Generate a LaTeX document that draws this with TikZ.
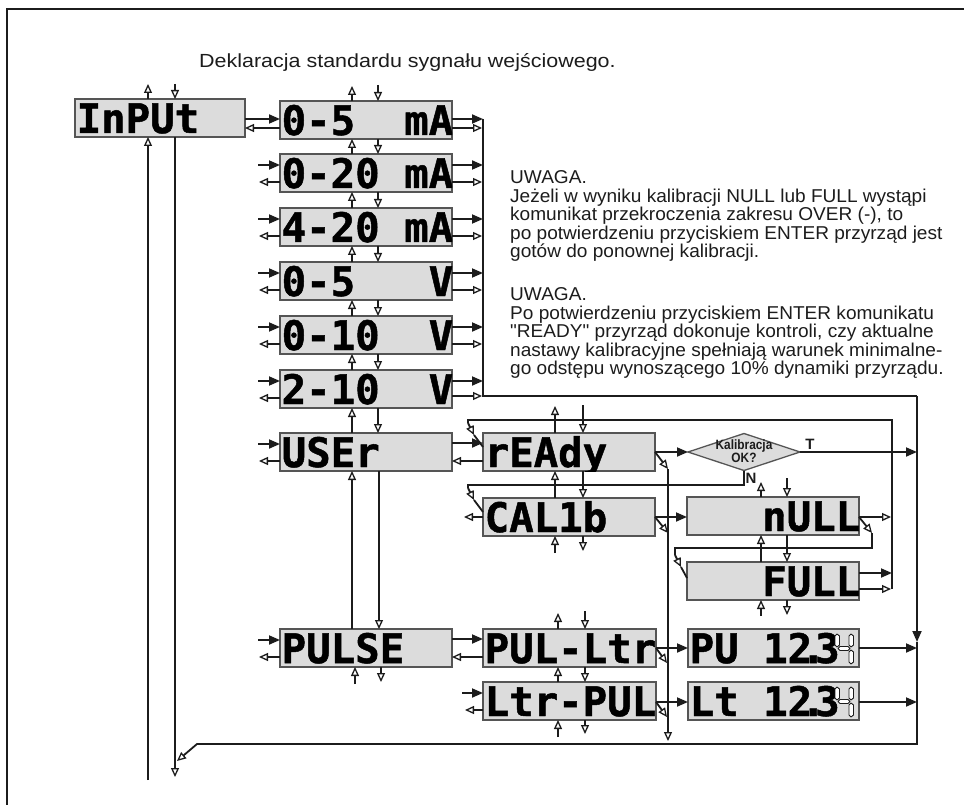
\documentclass[tikz,border=0pt]{standalone}
\usepackage{fontspec}
\setmainfont{Liberation Sans}
\newfontfamily\notefont[FakeStretch=1.025]{Liberation Sans}
\newfontfamily\titlefont[FakeStretch=1.13]{Liberation Sans}
\newfontfamily\diafont[FakeStretch=0.88]{Liberation Sans}
\newfontfamily\lcdfont{DejaVu Sans Mono}[BoldFeatures={FakeBold=1.2}]
\usetikzlibrary{arrows.meta,calc,shapes.geometric}
\definecolor{lcdgray}{RGB}{220,220,220}
\definecolor{lcdedge}{RGB}{85,85,85}
\definecolor{ink}{RGB}{28,28,28}
\newcommand\lcd[5]{%
  \node[lcdbox,minimum width=#4pt] (#1) at (#2,#3) {};
  \begin{scope}
    \clip (#1.south west) rectangle (#1.north east);
    \node[lcdtxt] (#1-t) at ($(#1.north west)+(1.5,34)$) {#5};
  \end{scope}}
% unlit segment pattern in the last cell of a display
\newcommand\ghost[1]{%
  \begin{scope}[shift={(#1.north west)}]
    \draw[seg] (149,5) -- (151.5,7) -- (151.5,16) -- (149,18) -- (147,16) -- (147,7) -- cycle;
    \draw[seg] (163,5) -- (165.5,7) -- (165.5,16) -- (163,18) -- (161,16) -- (161,7) -- cycle;
    \draw[seg] (150,19.5) -- (152,17.5) -- (160,17.5) -- (162,19.5) -- (160,21.5) -- (152,21.5) -- cycle;
    \draw[seg] (163,21) -- (165.5,23) -- (165.5,33) -- (163,35) -- (161,33) -- (161,23) -- cycle;
  \end{scope}}
\newcommand\dpt{\kern-11.25pt.\kern-10.25pt}
\begin{document}
\begin{tikzpicture}[x=1pt,y=-1pt,
  conn/.style={line width=1.8pt,draw=ink},
  fa/.style={conn,-{Triangle[length=11pt,width=9pt]}},
  oa/.style={conn,-{Triangle[open,length=9pt,width=8pt,line width=1.3pt]}},
  seg/.style={fill=white,draw=ink,line width=0.9pt,line join=round},
  lcdbox/.style={draw=lcdedge,line width=1.3pt,fill=lcdgray,anchor=north west,inner sep=0pt,outer sep=0pt,minimum height=38pt},
  lcdtxt/.style={font=\lcdfont\bfseries\fontsize{40.7}{40}\selectfont,anchor=base west,inner sep=0pt,text=black},
  note/.style={font=\notefont\fontsize{18.6}{18.6}\selectfont,anchor=base west,inner sep=0pt,text=ink},
  ttl/.style={font=\titlefont\fontsize{19}{19}\selectfont,anchor=base west,inner sep=0pt,text=ink},
  lbl/.style={font=\bfseries\fontsize{15}{15}\selectfont,inner sep=0pt,text=ink},
]
\useasboundingbox (0,0) rectangle (964,805);
% frame
\draw[line width=2.2pt,draw=ink] (964,9) -- (7,9) -- (7,805);
% title
\node[ttl] (title) at (199,68) {Deklaracja standardu sygnału wejściowego.};
% notes
\node[note] (n1) at (510,184) {UWAGA.};
\node[note] (n2) at (510,202.5) {Jeżeli w wyniku kalibracji NULL lub FULL wystąpi};
\node[note] (n3) at (510,221) {komunikat przekroczenia zakresu OVER (-), to};
\node[note] (n4) at (510,239.5) {po potwierdzeniu przyciskiem ENTER przyrząd jest};
\node[note] (n5) at (510,258) {gotów do ponownej kalibracji.};
\node[note] (m1) at (510,300.5) {UWAGA.};
\node[note] (m2) at (510,319) {Po potwierdzeniu przyciskiem ENTER komunikatu};
\node[note] (m3) at (510,337.5) {"READY" przyrząd dokonuje kontroli, czy aktualne};
\node[note] (m4) at (510,356) {nastawy kalibracyjne spełniają warunek minimalne-};
\node[note] (m5) at (510,374.5) {go odstępu wynoszącego 10\% dynamiki przyrządu.};
% displays
\lcd{inp}{75}{99}{170}{InPUt}
\lcd{a05}{280}{101}{172}{0-5~~mA}
\lcd{a020}{280}{154}{172}{0-20~mA}
\lcd{a420}{280}{208}{172}{4-20~mA}
\lcd{v05}{280}{262}{172}{0-5~~~V}
\lcd{v010}{280}{316}{172}{0-10~~V}
\lcd{v210}{280}{370}{172}{2-10~~V}
\lcd{user}{280}{433}{172}{USEr}
\lcd{pulse}{280}{629}{172}{PULSE}
\lcd{ready}{483}{433}{172}{rEAdy}
\lcd{calib}{483}{498}{172}{CAL1b}
\lcd{null}{687}{497}{172}{~~~nULL}
\lcd{full}{687}{562}{172}{~~~FULL}
\lcd{pultr}{483}{629}{173}{PUL-Ltr}
\lcd{ltrpul}{483}{682}{173}{Ltr-PUL}
\lcd{pu}{688}{629}{171}{PU~12\dpt 3}
\lcd{lt}{688}{682}{171}{Lt~12\dpt 3}
\ghost{pu}
\ghost{lt}
% decision
\node[diamond,draw=lcdedge,line width=1.3pt,fill=lcdgray,inner sep=0pt,outer sep=0pt,
  minimum width=112pt,minimum height=37pt,shape aspect=3] (dia) at (744,452) {};
\node[font=\diafont\bfseries\fontsize{13.5}{12.5}\selectfont,align=center,inner sep=0pt,text=ink] (diat) at (744,451) {Kalibracja\\OK?};
\node[lbl] (tl) at (810,444) {T};
\node[lbl] (nl) at (751,478) {N};
% coordinates
\coordinate (busTop) at (917,396);
\coordinate (busMid) at (917,642);
\coordinate (busBot) at (917,744);
\coordinate (retL) at (197,744);
\coordinate (retE) at (177,761);
% INPUT
\draw[fa] (inp.east |- 0,119) -- (a05.west |- 0,119);
\draw[oa] (a05.west |- 0,128) -- (inp.east |- 0,128);
\draw[oa] (inp.north -| 148,0) -- (148,84);
\draw[oa] (175,84) -- (inp.north -| 175,0);
\draw[oa] (148,780) -- (inp.south -| 148,0);
\draw[oa] (inp.south -| 175,0) -- (175,777);
% column left arrows
\foreach \nm/\yy in {a020/154,a420/208,v05/262,v010/316,v210/370,user/433,pulse/629}{
  \draw[fa] (258,\yy+11) -- (\nm.west |- 0,\yy+11);
}
\foreach \nm/\yy in {a020/154,a420/208,v05/262,v010/316,v210/370}{
  \draw[oa] (\nm.west |- 0,\yy+28) -- (259,\yy+28);
  \draw[fa] (\nm.east |- 0,\yy+11) -- (483,\yy+11);
}
\foreach \nm/\yy in {a020/154,a420/208,v05/262,v010/316}{
  \draw[oa] (\nm.east |- 0,\yy+28) -- (482,\yy+28);
}
\draw[oa] (v210.east |- 0,396) -- (482,396);
\draw[oa] (user.west |- 0,461) -- (259,461);
\draw[oa] (pulse.west |- 0,657) -- (259,657);
\draw[fa] (a05.east |- 0,119) -- (483,119);
\draw[oa] (a05.east |- 0,128) -- (482,128);
% bus
\draw[conn] (483,119) -- (483,396) -- (busTop);
\draw[fa] (busTop) -- (busMid);
\draw[oa] (busMid) -- (busBot) -- (retL) -- (retE);
% up/down in column
\draw[oa] (a05.north -| 352,0) -- (352,86);
\draw[oa] (378,85) -- (a05.north -| 378,0);
\foreach \u/\l in {a05/a020,a020/a420,a420/v05,v05/v010,v010/v210,v210/user}{
  \draw[oa] (\l.north -| 352,0) -- (\u.south -| 352,0);
  \draw[oa] (\u.south -| 378,0) -- (\l.north -| 378,0);
}
\draw[oa] (pulse.north -| 352,0) -- (user.south -| 352,0);
\draw[oa] (user.south -| 379,0) -- (pulse.north -| 379,0);
\draw[oa] (355,684) -- (pulse.south -| 355,0);
\draw[oa] (pulse.south -| 381,0) -- (381,682);
% USEr <-> rEAdy
\draw[fa] (user.east |- 0,443) -- (ready.west |- 0,443);
\draw[oa] (ready.west |- 0,461) -- (user.east |- 0,461);
% rEAdy / CAL
\draw[oa] (ready.north -| 555,0) -- (555,406);
\draw[oa] (583,405) -- (ready.north -| 583,0);
\draw[oa] (calib.north -| 555,0) -- (ready.south -| 555,0);
\draw[oa] (ready.south -| 583,0) -- (calib.north -| 583,0);
\draw[oa] (555,553) -- (calib.south -| 555,0);
\draw[oa] (calib.south -| 583,0) -- (583,551);
\draw[oa] (calib.west |- 0,517) -- (464,517);
\draw[fa] (calib.east |- 0,517) -- (null.west |- 0,517);
\draw[oa] (calib.east |- 0,517) -- (668,533);
\draw[fa] (ready.east |- 0,452) -- (dia.west);
\draw[oa] (ready.east |- 0,452) -- (668,469);
\draw[oa] (668,469) -- (668,741);
% decision
\draw[fa] (dia.east) -- (917,452);
\draw[conn] (dia.south) -- (744,485) -- (468,485) -- (468,488);
\draw[oa] (468,488) -- (474,500);
\draw[conn] (474,500) -- (calib.west |- 0,512);
% return to ready
\draw[conn] (892,589) -- (892,420) -- (468,420) -- (468,423);
\draw[oa] (468,423) -- (474,435);
\draw[conn] (474,435) -- (ready.west |- 0,447);
% nULL / FULL
\draw[oa] (null.north -| 761,0) -- (761,482);
\draw[oa] (787,478) -- (null.north -| 787,0);
\draw[oa] (full.north -| 761,0) -- (null.south -| 761,0);
\draw[oa] (null.south -| 787,0) -- (full.north -| 787,0);
\draw[oa] (761,616) -- (full.south -| 761,0);
\draw[oa] (full.south -| 787,0) -- (787,615);
\draw[oa] (null.east |- 0,517) -- (891,517);
\draw[oa] (null.east |- 0,517) -- (872,533);
\draw[conn] (872,533) -- (872,548) -- (675,548) -- (675,555);
\draw[oa] (675,555) -- (681,567);
\draw[conn] (681,567) -- (full.west |- 0,578);
\draw[fa] (full.east |- 0,573) -- (892,573);
\draw[oa] (full.east |- 0,589) -- (891,589);
% PULSE branch
\draw[fa] (pulse.east |- 0,639) -- (pultr.west |- 0,639);
\draw[oa] (pultr.west |- 0,657) -- (pulse.east |- 0,657);
\draw[oa] (pultr.north -| 558,0) -- (558,613);
\draw[oa] (585,611) -- (pultr.north -| 585,0);
\draw[oa] (ltrpul.north -| 558,0) -- (pultr.south -| 558,0);
\draw[oa] (pultr.south -| 585,0) -- (ltrpul.north -| 585,0);
\draw[oa] (558,737) -- (ltrpul.south -| 558,0);
\draw[oa] (ltrpul.south -| 585,0) -- (585,734);
\draw[fa] (462,693) -- (ltrpul.west |- 0,693);
\draw[oa] (ltrpul.west |- 0,710) -- (465,710);
\draw[fa] (pultr.east |- 0,648) -- (pu.west |- 0,648);
\draw[oa] (pultr.east |- 0,648) -- (667,663);
\draw[fa] (ltrpul.east |- 0,702) -- (lt.west |- 0,702);
\draw[oa] (ltrpul.east |- 0,702) -- (667,717);
\draw[fa] (pu.east |- 0,648) -- (917,648);
\draw[fa] (lt.east |- 0,702) -- (917,702);
\end{tikzpicture}
\end{document}
